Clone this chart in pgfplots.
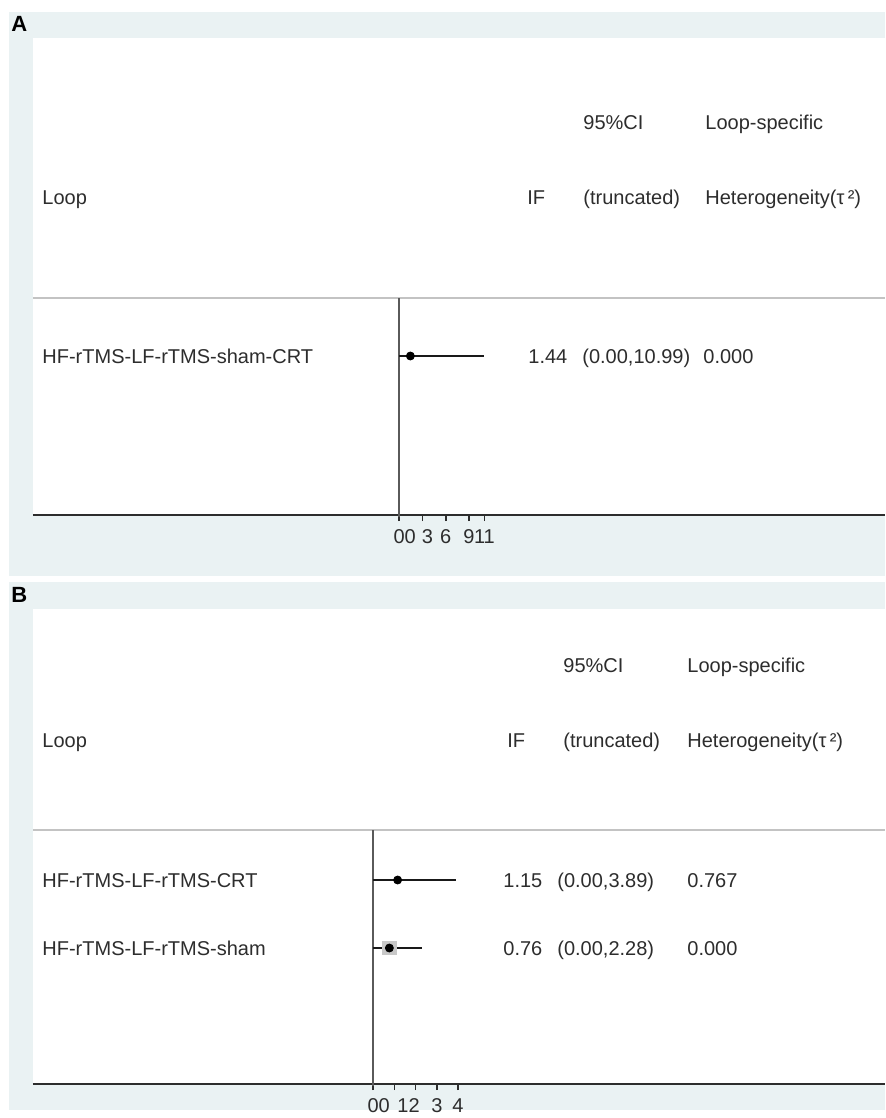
\documentclass[border=0pt]{standalone}
\usepackage{pgfplots}
\pgfplotsset{compat=1.18}
\usepackage{fontspec}
\setmainfont{Liberation Sans}
\definecolor{bandgray}{RGB}{234,242,243}
\definecolor{txt}{RGB}{45,45,45}
\definecolor{refline}{RGB}{90,90,90}
\definecolor{sepline}{RGB}{195,195,195}
\definecolor{wbox}{RGB}{200,200,200}

\pgfplotsset{
  ifpanel/.style={
    anchor=south west, scale only axis,
    width=426pt,
    ymin=0,
    axis x line=bottom, axis y line=none,
    axis line style={-, draw=txt, line width=1pt},
    tick align=outside, xtick pos=bottom,
    major tick length=3pt,
    every tick/.style={draw=txt, line width=0.8pt},
    typeset ticklabels with strut,
    xticklabel style={font=\fontsize{10}{12}\selectfont, text=txt, inner sep=1pt, yshift=-1.5pt},
    /pgf/number format/assume math mode=true,
    extra x tick style={major tick style={draw=none}},
    clip=false,
  },
}

\begin{document}
\begin{tikzpicture}
% panel backgrounds (1 unit = 1 px, y downwards)
\begin{scope}[x=0.5pt,y=-0.5pt]
  \path[fill=white] (0,0) rectangle (885,1118);
  \fill[bandgray] (9,12) rectangle (885,576);
  \fill[white] (33,38) rectangle (885,515);
  \fill[bandgray] (9,582) rectangle (885,1110);
  \fill[white] (33,609) rectangle (885,1084);
\end{scope}

% ---------------- Panel A ----------------
\begin{axis}[ifpanel,
  at={(16.5pt,-257.5pt)},
  height=238.5pt,
  xmin=-47.25, xmax=62.68, ymax=477,
  xtick={0,3,6,9,11}, xticklabels={0,,6,9,11},
  extra x ticks={1.43,3.63}, extra x tick labels={0,3},
]
  % separator and null line
  \draw[sepline, line width=0.8pt] (axis cs:-47.25,217) -- (axis cs:62.68,217);
  \addplot[refline, line width=1.2pt] coordinates {(0,-2) (0,217)};
  % HF-rTMS-LF-rTMS-sham-CRT: IF 1.44 (0.00, 10.99)
  \addplot[black!90, line width=1pt] coordinates {(0,159) (10.99,159)};
  \addplot[only marks, mark=*, mark size=2pt, black] coordinates {(1.44,159)};
\end{axis}

% ---------------- Panel B ----------------
\begin{axis}[ifpanel,
  at={(16.5pt,-542pt)},
  height=237.5pt,
  xmin=-16.05, xmax=24.14, ymax=475,
  xtick={0,1,2,3,4}, xticklabels={0,,,3,4},
  extra x ticks={0.52,1.40,1.93}, extra x tick labels={0,1,2},
]
  \draw[sepline, line width=0.8pt] (axis cs:-16.05,254) -- (axis cs:24.14,254);
  \addplot[refline, line width=1.2pt] coordinates {(0,-2) (0,254)};
  % HF-rTMS-LF-rTMS-CRT: IF 1.15 (0.00, 3.89)
  \addplot[black!90, line width=1pt] coordinates {(0,204) (3.89,204)};
  % HF-rTMS-LF-rTMS-sham: IF 0.76 (0.00, 2.28), with its weight box
  \addplot[only marks, mark=square*, mark size=3.3pt, wbox, mark options={draw=none, fill=wbox}] coordinates {(0.76,136)};
  \addplot[black!90, line width=1pt] coordinates {(0,136) (2.28,136)};
  \addplot[only marks, mark=*, mark size=2pt, black] coordinates {(1.15,204) (0.76,136)};
\end{axis}

% ---------------- Labels and table text ----------------
\begin{scope}[x=0.5pt,y=-0.5pt,
  every node/.style={inner sep=0pt, anchor=base west, text=txt, font=\fontsize{10}{12}\selectfont}]
  \node[font=\bfseries\fontsize{11}{13}\selectfont, text=black] at (11,32) {A};
  \node at (42,205) {Loop};
  \node at (527,205) {IF};
  \node at (583,130) {95\%CI};
  \node at (583,205) {(truncated)};
  \node at (705,130) {Loop-specific};
  \node at (705,205) {Heterogeneity(τ\,²)};
  \node at (42,363) {HF-rTMS-LF-rTMS-sham-CRT};
  \node at (528,363) {1.44};
  \node at (582,363) {(0.00,10.99)};
  \node at (703,363) {0.000};

  \node[font=\bfseries\fontsize{11}{13}\selectfont, text=black] at (11,602) {B};
  \node at (42,747) {Loop};
  \node at (507,747) {IF};
  \node at (563,672) {95\%CI};
  \node at (563,747) {(truncated)};
  \node at (687,672) {Loop-specific};
  \node at (687,747) {Heterogeneity(τ\,²)};
  \node at (42,887) {HF-rTMS-LF-rTMS-CRT};
  \node at (503,887) {1.15};
  \node at (557,887) {(0.00,3.89)};
  \node at (687,887) {0.767};
  \node at (42,955) {HF-rTMS-LF-rTMS-sham};
  \node at (503,955) {0.76};
  \node at (557,955) {(0.00,2.28)};
  \node at (687,955) {0.000};
\end{scope}

% fix the page to the full figure area
\pgfresetboundingbox
\path[use as bounding box] (0pt,0pt) rectangle (442.5pt,-559pt);
\end{tikzpicture}
\end{document}
